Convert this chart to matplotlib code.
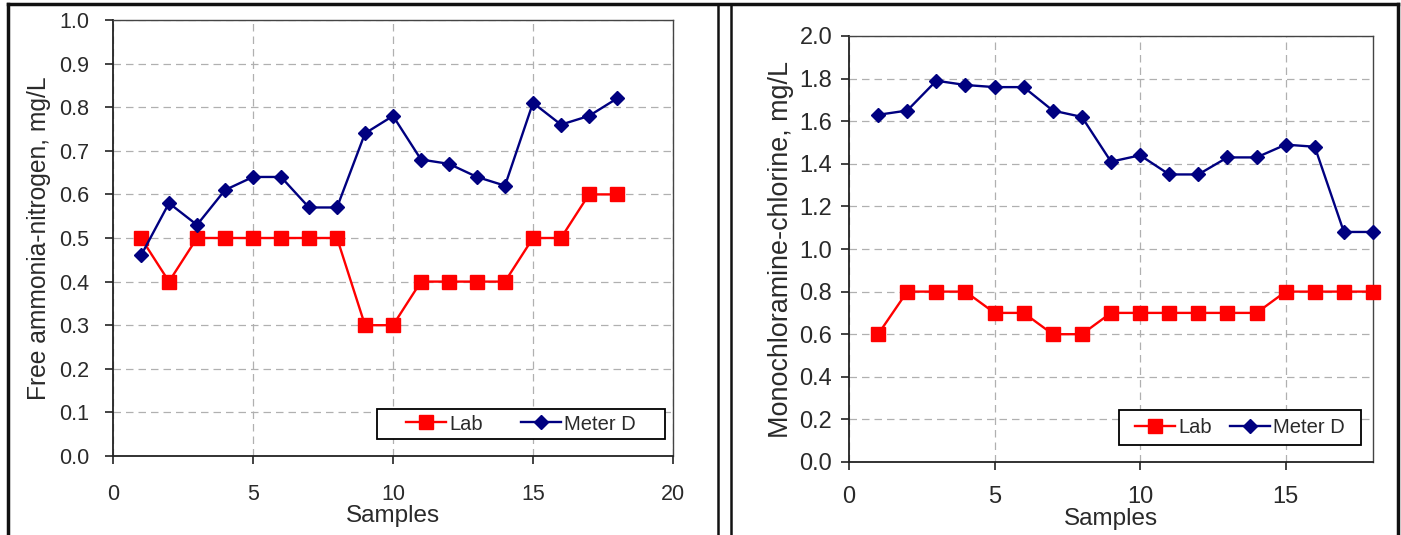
import matplotlib
matplotlib.use("Agg")
import matplotlib.pyplot as plt
from matplotlib.lines import Line2D
from matplotlib.patches import Rectangle

samples = list(range(1, 19))
ammonia_lab = [0.5, 0.4, 0.5, 0.5, 0.5, 0.5, 0.5, 0.5, 0.3, 0.3, 0.4, 0.4, 0.4, 0.4, 0.5, 0.5, 0.6, 0.6]
ammonia_meter = [0.46, 0.58, 0.53, 0.61, 0.64, 0.64, 0.57, 0.57, 0.74, 0.78, 0.68, 0.67, 0.64, 0.62, 0.81, 0.76, 0.78, 0.82]
mono_lab = [0.6, 0.8, 0.8, 0.8, 0.7, 0.7, 0.6, 0.6, 0.7, 0.7, 0.7, 0.7, 0.7, 0.7, 0.8, 0.8, 0.8, 0.8]
mono_meter = [1.63, 1.65, 1.79, 1.77, 1.76, 1.76, 1.65, 1.62, 1.41, 1.44, 1.35, 1.35, 1.43, 1.43, 1.49, 1.48, 1.08, 1.08]

left_yticks = [round(0.1 * i, 1) for i in range(11)]
right_yticks = [round(0.2 * i, 1) for i in range(11)]

plt.rcParams['font.family'] = ['Liberation Sans', 'DejaVu Sans']

W, H = 1401, 535
fig = plt.figure(figsize=(W / 100, H / 100), dpi=100)

RED = '#ff0000'
BLUE = '#000080'
TXT = '#2a2a2a'


def style(ax, xlim, xticks, ylim, yticks, ylabel, tsize, ysize, xpad, ypad, xlabelpad, ylabelpad):
    ax.set_xlim(*xlim)
    ax.set_ylim(*ylim)
    ax.set_xticks(xticks)
    ax.set_yticks(yticks)
    ax.set_yticklabels([f"{v:.1f}" for v in yticks])
    ax.grid(True, color='#b0b0b0', linestyle=(0, (6, 4)), linewidth=0.9)
    ax.set_axisbelow(True)
    for s in ['left', 'bottom']:
        ax.spines[s].set_color('#222222')
        ax.spines[s].set_linewidth(1.3)
    for s in ['top', 'right']:
        ax.spines[s].set_color('#444444')
        ax.spines[s].set_linewidth(1.0)
    ax.tick_params(axis='both', direction='out', length=6, width=1.2, color='#222222',
                   labelsize=tsize, labelcolor=TXT)
    ax.tick_params(axis='x', pad=xpad)
    ax.tick_params(axis='y', pad=ypad)
    ax.set_xlabel('Samples', fontsize=17.5, color=TXT, labelpad=xlabelpad)
    ax.set_ylabel(ylabel, fontsize=ysize, color=TXT, labelpad=ylabelpad)


def plot_series(ax, lab, meter, box, colsp):
    ax.plot(samples, lab, color=RED, marker='s', markersize=10, linewidth=1.7,
            label='Lab', clip_on=False, zorder=3)
    ax.plot(samples, meter, color=BLUE, marker='D', markersize=7, linewidth=1.7,
            label='Meter D', clip_on=False, zorder=4)
    x0, y0, x1, y1 = box  # pixel coords, origin top-left
    fx0, fx1 = x0 / W, x1 / W
    fy0, fy1 = 1 - y1 / H, 1 - y0 / H
    rect = Rectangle((fx0, fy0), fx1 - fx0, fy1 - fy0, transform=fig.transFigure,
                     facecolor='white', edgecolor='black', linewidth=1.3, zorder=5,
                     clip_on=False)
    ax.add_patch(rect)
    leg = ax.legend(loc='center', ncol=2, fontsize=14.5, frameon=False,
                    borderpad=0.0, handlelength=2.0, columnspacing=colsp,
                    handletextpad=0.15, bbox_to_anchor=((fx0 + fx1) / 2, (fy0 + fy1) / 2),
                    bbox_transform=fig.transFigure)
    leg.set_zorder(6)
    for t in leg.get_texts():
        t.set_color(TXT)


ax1 = fig.add_axes([113 / W, 1 - 456 / H, (673 - 113) / W, (456 - 20) / H])
plot_series(ax1, ammonia_lab, ammonia_meter, (377, 409, 665, 439), 1.9)
style(ax1, (0, 20), [0, 5, 10, 15, 20], (0, 1.0), left_yticks, 'Free ammonia-nitrogen, mg/L',
      15.5, 17.7, 14, 11, 0, 6)

ax2 = fig.add_axes([849 / W, 1 - 462 / H, (1373 - 849) / W, (462 - 36) / H])
plot_series(ax2, mono_lab, mono_meter, (1119, 410, 1361, 445), 0.9)
style(ax2, (0, 18), [0, 5, 10, 15], (0, 2.0), right_yticks, 'Monochloramine-chlorine, mg/L',
      17, 19.4, 11, 6, 0, 4)


# outer table-like borders
def vline(x, lw=2.5):
    fig.add_artist(Line2D([x / W, x / W], [0, 1 - 4 / H], transform=fig.transFigure,
                          color='#111111', linewidth=lw))


fig.add_artist(Line2D([8 / W, 1398 / W], [1 - 4 / H, 1 - 4 / H], transform=fig.transFigure,
                      color='#111111', linewidth=2.5))
vline(8)
vline(1398)
vline(718, 1.8)
vline(731, 1.8)

fig.savefig('out.png', dpi=100)
